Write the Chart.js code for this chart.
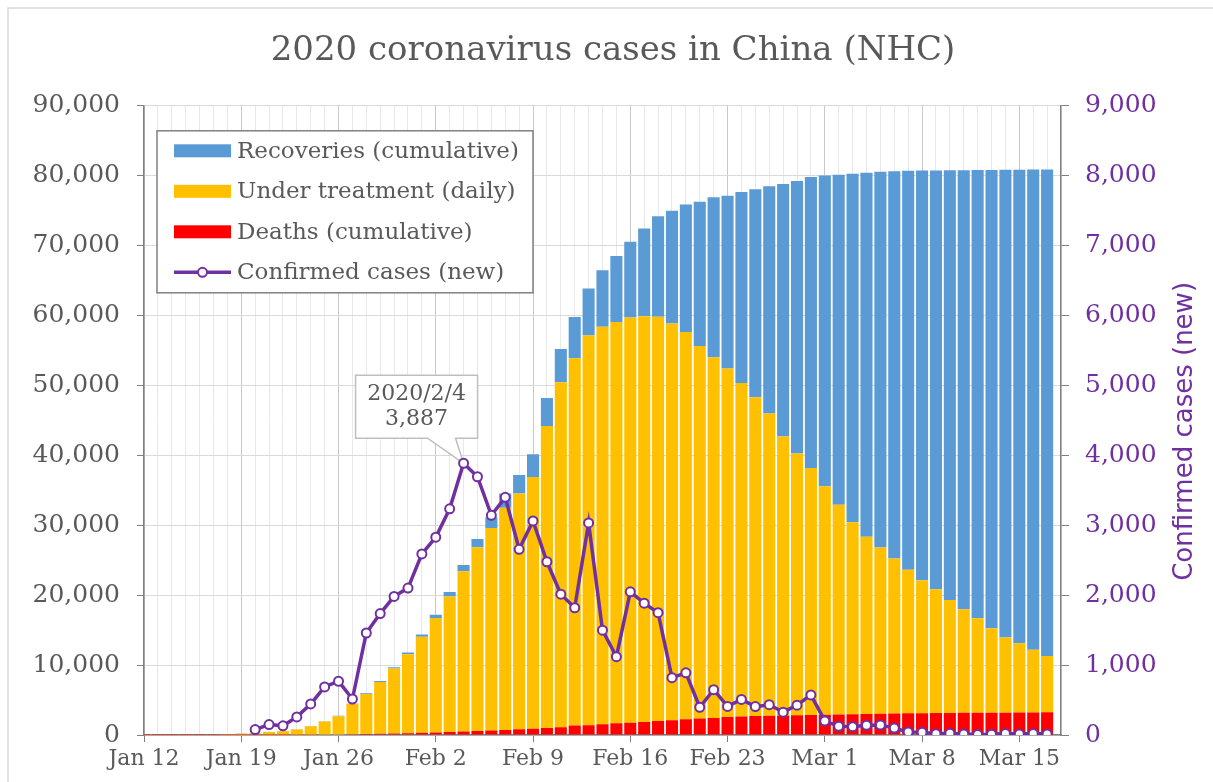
<!DOCTYPE html>
<html>
<head>
<meta charset="utf-8">
<title>2020 coronavirus cases in China (NHC)</title>
<script src="https://cdn.jsdelivr.net/npm/chart.js@4.4.1/dist/chart.umd.min.js"></script>
<style>
  html, body { margin: 0; padding: 0; background: #fff; }
  #wrap { width: 1213px; height: 782px; }
</style>
</head>
<body>
<div id="wrap"><canvas id="casesChart" width="1213" height="782"></canvas></div>
<script>
// data
const chartTitle = '2020 coronavirus cases in China (NHC)';
const rightAxisTitle = 'Confirmed cases (new)';

const dates = [
    '2020/1/12', '2020/1/13', '2020/1/14', '2020/1/15', '2020/1/16', '2020/1/17', '2020/1/18',
    '2020/1/19', '2020/1/20', '2020/1/21', '2020/1/22', '2020/1/23', '2020/1/24', '2020/1/25',
    '2020/1/26', '2020/1/27', '2020/1/28', '2020/1/29', '2020/1/30', '2020/1/31', '2020/2/1',
    '2020/2/2', '2020/2/3', '2020/2/4', '2020/2/5', '2020/2/6', '2020/2/7', '2020/2/8',
    '2020/2/9', '2020/2/10', '2020/2/11', '2020/2/12', '2020/2/13', '2020/2/14', '2020/2/15',
    '2020/2/16', '2020/2/17', '2020/2/18', '2020/2/19', '2020/2/20', '2020/2/21', '2020/2/22',
    '2020/2/23', '2020/2/24', '2020/2/25', '2020/2/26', '2020/2/27', '2020/2/28', '2020/2/29',
    '2020/3/1', '2020/3/2', '2020/3/3', '2020/3/4', '2020/3/5', '2020/3/6', '2020/3/7',
    '2020/3/8', '2020/3/9', '2020/3/10', '2020/3/11', '2020/3/12', '2020/3/13', '2020/3/14',
    '2020/3/15', '2020/3/16', '2020/3/17'
];
const axisEnd = '2020/3/18';
const weekTicks = ['Jan 12', 'Jan 19', 'Jan 26', 'Feb 2', 'Feb 9', 'Feb 16', 'Feb 23', 'Mar 1', 'Mar 8', 'Mar 15'];

const deaths = [
    1, 1, 1, 2, 2, 2, 3,
    3, 6, 9, 17, 25, 41, 56,
    80, 106, 132, 170, 213, 259, 304,
    361, 425, 490, 563, 636, 722, 811,
    908, 1016, 1113, 1367, 1380, 1523, 1665,
    1770, 1868, 2004, 2118, 2236, 2345, 2442,
    2592, 2663, 2715, 2744, 2788, 2835, 2870,
    2912, 2943, 2981, 3012, 3042, 3070, 3097,
    3119, 3136, 3158, 3169, 3176, 3189, 3199,
    3213, 3226, 3237
];
const underTreatment = [
    33, 33, 33, 27, 28, 41, 94,
    170, 260, 406, 526, 771, 1208, 1870,
    2613, 4349, 5739, 7417, 9308, 11289, 13748,
    16369, 19381, 22942, 26302, 28985, 31774, 33738,
    35982, 43188, 49347, 52526, 55748, 56873, 57416,
    57934, 58016, 57805, 56732, 55394, 53284, 51606,
    49824, 47672, 45604, 43258, 39919, 37414, 35329,
    32652, 30004, 27433, 25352, 23784, 22177, 20533,
    19016, 17721, 16145, 14831, 13526, 12094, 10734,
    9898, 8976, 8056
];
const recoveries = [
    7, 7, 7, 12, 15, 19, 24,
    25, 25, 25, 28, 34, 38, 49,
    51, 60, 103, 124, 171, 243, 328,
    475, 632, 892, 1153, 1540, 2050, 2649,
    3281, 3996, 4740, 5911, 6723, 8096, 9419,
    10844, 12552, 14376, 16155, 18264, 20659, 22888,
    24734, 27323, 29745, 32495, 36117, 39002, 41625,
    44462, 47204, 49856, 52045, 53726, 55404, 57065,
    58600, 59897, 61475, 62793, 64111, 65541, 66911,
    67749, 68679, 69601
];
const newCases = [
    null, null, null, null, null, null, null,
    null, 77, 149, 131, 259, 444, 688,
    769, 515, 1459, 1737, 1982, 2102, 2590,
    2829, 3235, 3887, 3694, 3143, 3399, 2656,
    3062, 2478, 2015, 1820, 3033, 1500, 1120,
    2048, 1886, 1749, 820, 889, 397, 648,
    409, 508, 406, 433, 327, 427, 573,
    202, 125, 119, 139, 143, 99, 44,
    40, 19, 24, 15, 8, 11, 20,
    16, 21, 13
];

const BLUE = '#5B9BD5';
const YELLOW = '#FFC000';
const RED = '#FF0000';
const PURPLE = '#7030A0';
const TEXT = '#595959';
const AXIS = '#808080';
const SERIF = '"DejaVu Serif", serif';
const SANS = '"DejaVu Sans", sans-serif';

// thin frame round the whole picture
const framePlugin = {
    id: 'frame',
    beforeDraw(chart) {
        const ctx = chart.ctx;
        ctx.save();
        ctx.fillStyle = '#fff';
        ctx.fillRect(0, 0, chart.width, chart.height);
        ctx.strokeStyle = '#d9d9d9';
        ctx.lineWidth = 1.5;
        ctx.beginPath();
        ctx.moveTo(8, chart.height);
        ctx.lineTo(8, 8);
        ctx.lineTo(chart.width, 8);
        ctx.stroke();
        ctx.restore();
    }
};

// callout on the peak of new cases
const peakCallout = {
    id: 'peakCallout',
    beforeDatasetsDraw(chart) {
        const values = newCases.map(v => v || 0);
        const peak = values.indexOf(Math.max(...values));
        const pt = chart.getDatasetMeta(0).data[peak];
        if (!pt) return;
        const ctx = chart.ctx;
        const left = pt.x - 108, right = pt.x + 14;
        const top = pt.y - 88, bottom = pt.y - 25;
        ctx.save();
        ctx.beginPath();
        ctx.moveTo(left, top);
        ctx.lineTo(right, top);
        ctx.lineTo(right, bottom);
        ctx.lineTo(pt.x - 8, bottom);
        ctx.lineTo(pt.x, pt.y);
        ctx.lineTo(pt.x - 36, bottom);
        ctx.lineTo(left, bottom);
        ctx.closePath();
        ctx.fillStyle = '#fff';
        ctx.fill();
        ctx.strokeStyle = '#bfbfbf';
        ctx.lineWidth = 1.5;
        ctx.stroke();
        ctx.fillStyle = TEXT;
        ctx.font = '22px ' + SERIF;
        ctx.textAlign = 'center';
        ctx.textBaseline = 'middle';
        const cx = (left + right) / 2;
        ctx.fillText(dates[peak], cx, top + 19);
        ctx.fillText(newCases[peak].toLocaleString('en-US'), cx, top + 44);
        ctx.restore();
    }
};

// boxed legend inside the plot
const legendBox = {
    id: 'legendBox',
    afterDatasetsDraw(chart) {
        const ctx = chart.ctx;
        const area = chart.chartArea;
        const x = area.left + 13, y = area.top + 25, w = 376, h = 162;
        const items = [3, 2, 1, 0].map(i => chart.data.datasets[i]);
        ctx.save();
        ctx.fillStyle = '#fff';
        ctx.fillRect(x, y, w, h);
        ctx.strokeStyle = AXIS;
        ctx.lineWidth = 1.5;
        ctx.strokeRect(x, y, w, h);
        ctx.font = '23px ' + SERIF;
        ctx.textBaseline = 'middle';
        items.forEach((ds, i) => {
            const ry = y + 20 + i * 40.5;
            const sx = x + 17, sw = 57;
            if (ds.type === 'line') {
                ctx.strokeStyle = ds.borderColor;
                ctx.lineWidth = 3.5;
                ctx.beginPath();
                ctx.moveTo(sx, ry);
                ctx.lineTo(sx + sw, ry);
                ctx.stroke();
                ctx.beginPath();
                ctx.arc(sx + sw / 2, ry, 4.5, 0, Math.PI * 2);
                ctx.fillStyle = '#fff';
                ctx.fill();
                ctx.lineWidth = 2;
                ctx.stroke();
            } else {
                ctx.fillStyle = ds.backgroundColor;
                ctx.fillRect(sx, ry - 6.5, sw, 13);
            }
            ctx.fillStyle = TEXT;
            ctx.fillText(ds.label, x + 80, ry + 1);
        });
        ctx.restore();
    }
};

// right axis title reads bottom to top
const rightTitle = {
    id: 'rightTitle',
    afterDraw(chart) {
        const ctx = chart.ctx;
        const area = chart.chartArea;
        ctx.save();
        ctx.translate(1185, (area.top + area.bottom) / 2 + 11);
        ctx.rotate(-Math.PI / 2);
        ctx.font = '26px ' + SANS;
        ctx.fillStyle = PURPLE;
        ctx.textAlign = 'center';
        ctx.textBaseline = 'middle';
        ctx.fillText(rightAxisTitle, 0, 0);
        ctx.restore();
    }
};

const casesChart = new Chart(document.getElementById('casesChart'), {
    type: 'bar',
    data: {
        labels: dates.concat([axisEnd]),
        datasets: [
            {
                type: 'line',
                label: 'Confirmed cases (new)',
                data: newCases,
                yAxisID: 'y1',
                order: 0,
                borderColor: PURPLE,
                borderWidth: 3.5,
                pointRadius: 4.5,
                pointBorderWidth: 2,
                pointBackgroundColor: '#fff',
                pointBorderColor: PURPLE,
                tension: 0
            },
            { label: 'Deaths (cumulative)', data: deaths, backgroundColor: RED, order: 1 },
            { label: 'Under treatment (daily)', data: underTreatment, backgroundColor: YELLOW, order: 1 },
            { label: 'Recoveries (cumulative)', data: recoveries, backgroundColor: BLUE, order: 1 }
        ]
    },
    options: {
        responsive: false,
        animation: false,
        locale: 'en-US',
        categoryPercentage: 1,
        barPercentage: 0.87,
        layout: { padding: { left: 13, right: 0, top: 0, bottom: 0 } },
        plugins: {
            legend: { display: false },
            tooltip: { enabled: false },
            title: {
                display: true,
                text: chartTitle,
                color: TEXT,
                font: { family: SERIF, size: 34, weight: 'normal' },
                padding: { top: 31, bottom: 34 }
            }
        },
        scales: {
            x: {
                stacked: true,
                offset: false,
                grid: {
                    offset: false,
                    color: c => c.index % 7 === 0 ? '#c8c8c8' : '#e8e8e8',
                    tickLength: 7,
                    tickColor: c => c.index % 7 === 0 ? AXIS : 'rgba(0,0,0,0)'
                },
                border: { color: AXIS, width: 1.5 },
                ticks: {
                    autoSkip: false,
                    maxRotation: 0,
                    minRotation: 0,
                    padding: 4,
                    color: TEXT,
                    font: { family: SERIF, size: 22 },
                    callback: (v, i) => i % 7 === 0 ? weekTicks[i / 7] : ''
                },
                afterFit: s => { s.height = 47; }
            },
            y: {
                stacked: true,
                min: 0,
                max: 90000,
                ticks: { stepSize: 10000, padding: 17, color: TEXT, font: { family: SERIF, size: 25 } },
                grid: { color: '#d9d9d9', tickLength: 7, tickColor: AXIS },
                border: { color: AXIS, width: 1.5 },
                afterFit: s => { s.width = 131; }
            },
            y1: {
                position: 'right',
                min: 0,
                max: 9000,
                ticks: { stepSize: 1000, padding: 16, color: PURPLE, font: { family: SERIF, size: 25 } },
                grid: { drawOnChartArea: false, tickLength: 8, tickColor: AXIS },
                border: { color: AXIS, width: 1.5 },
                afterFit: s => { s.width = 152; }
            }
        }
    },
    plugins: [framePlugin, peakCallout, legendBox, rightTitle]
});
</script>
</body>
</html>
